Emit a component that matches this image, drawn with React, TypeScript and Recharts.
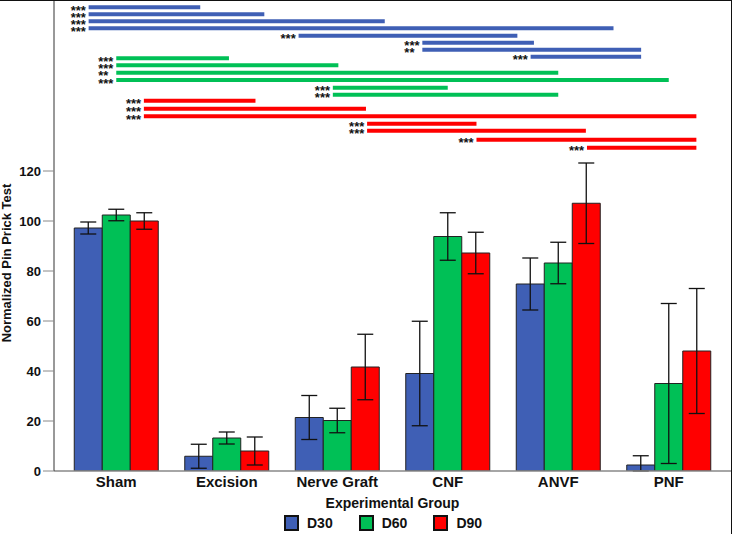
import React from 'react';
import {
  BarChart,
  Bar,
  XAxis,
  YAxis,
  ErrorBar,
  Legend,
  ReferenceLine
} from 'recharts';

// Groups and mean values per day
const groups = ['Sham', 'Excision', 'Nerve Graft', 'CNF', 'ANVF', 'PNF'];
const d30 = [97.2, 5.9, 21.4, 39.0, 74.8, 2.4];
const d30Err = [2.4, 4.8, 8.8, 20.9, 10.4, 3.7];
const d60 = [102.4, 13.2, 20.2, 93.8, 83.2, 35.0];
const d60Err = [2.3, 2.4, 4.9, 9.5, 8.3, 32.0];
const d90 = [100.0, 8.0, 41.6, 87.2, 107.1, 48.0];
const d90Err = [3.3, 5.6, 13.1, 8.3, 16.1, 25.0];

const yTicks = [0, 20, 40, 60, 80, 100, 120];

const seriesNames = ['D30', 'D60', 'D90'];
const seriesColors = ['#3F5FB5', '#00C056', '#FF0000'];

// Significance brackets: positions in group units (group centre = index)
const blueSig = [
  { from: -0.25, to: 0.76, y: 185.5, label: '***' },
  { from: -0.25, to: 1.34, y: 182.7, label: '***' },
  { from: -0.25, to: 2.43, y: 179.9, label: '***' },
  { from: -0.25, to: 4.5, y: 177.1, label: '***' },
  { from: 1.65, to: 3.63, y: 174.1, label: '***' },
  { from: 2.77, to: 3.78, y: 171.3, label: '***' },
  { from: 2.77, to: 4.75, y: 168.5, label: '**' },
  { from: 3.75, to: 4.75, y: 165.7, label: '***' }
];
const greenSig = [
  { from: 0.0, to: 1.02, y: 165.1, label: '***' },
  { from: 0.0, to: 2.01, y: 162.3, label: '***' },
  { from: 0.0, to: 4.0, y: 159.3, label: '**' },
  { from: 0.0, to: 5.0, y: 156.4, label: '***' },
  { from: 1.96, to: 3.0, y: 153.3, label: '***' },
  { from: 1.96, to: 4.0, y: 150.5, label: '***' }
];
const redSig = [
  { from: 0.25, to: 1.26, y: 148.1, label: '***' },
  { from: 0.25, to: 2.26, y: 144.9, label: '***' },
  { from: 0.25, to: 5.25, y: 141.9, label: '***' },
  { from: 2.27, to: 3.26, y: 138.9, label: '***' },
  { from: 2.27, to: 4.25, y: 136.1, label: '***' },
  { from: 3.26, to: 5.25, y: 132.5, label: '***' },
  { from: 4.26, to: 5.25, y: 129.3, label: '***' }
];

// error whiskers stop at the axis (no negative scores)
const clampErr = (v: number, e: number) => [Math.min(v, e), e];

const data = groups.map((g, i) => ({
  group: g,
  pos: i,
  d30: d30[i],
  d30Err: clampErr(d30[i], d30Err[i]),
  d60: d60[i],
  d60Err: clampErr(d60[i], d60Err[i]),
  d90: d90[i],
  d90Err: clampErr(d90[i], d90Err[i])
}));

const FONT = '"Liberation Sans", Arial, sans-serif';
const PAD = { left: 7, right: 7 };
// numeric helper axis: group index 0..5 lands on the band centres
const NUM_PAD = { left: 62.25, right: 62.25 };

const starLabel = (text: string) => (props: any) => {
  const vb = props.viewBox || {};
  return (
    <text
      x={vb.x - 18}
      y={vb.y + 7.5}
      fontFamily={FONT}
      fontWeight="bold"
      fontSize={13}
      fill="#111"
    >
      {text}
    </text>
  );
};

const renderLegend = () => (
  <div style={{ display: 'flex', paddingLeft: 284, paddingTop: 3, fontFamily: FONT }}>
    {seriesNames.map((name, i) => (
      <div key={name} style={{ display: 'flex', alignItems: 'center', marginRight: 26 }}>
        <span
          style={{
            display: 'inline-block',
            width: 11,
            height: 12,
            background: seriesColors[i],
            border: '2px solid #111',
            marginRight: 8
          }}
        />
        <span style={{ fontWeight: 'bold', fontSize: 14, color: '#111' }}>{name}</span>
      </div>
    ))}
  </div>
);

const sigLines = (list: typeof blueSig, color: string, key: string) =>
  list.map((s, i) => (
    <ReferenceLine
      key={`${key}-${i}`}
      xAxisId="num"
      segment={[{ x: s.from, y: s.y }, { x: s.to, y: s.y }]}
      stroke={color}
      strokeWidth={4}
      ifOverflow="visible"
      label={starLabel(s.label)}
    />
  ));

export default function App() {
  return (
    <div
      style={{
        position: 'absolute',
        left: 0,
        top: 0,
        width: 731,
        height: 533,
        borderTop: '1px solid #111',
        borderRight: '1px solid #111',
        background: '#fff'
      }}
    >
      <BarChart
        width={731}
        height={533}
        data={data}
        margin={{ top: 0, right: 0, left: 0, bottom: 0 }}
        barCategoryGap="12%"
        barGap={0}
      >
        <XAxis
          xAxisId="cat"
          dataKey="group"
          padding={PAD}
          height={41}
          tickLine={false}
          tickSize={3}
          tickMargin={2}
          axisLine={{ stroke: '#888', strokeWidth: 1.5 }}
          tick={{ fontFamily: FONT, fontWeight: 'bold', fontSize: 15, fill: '#111' }}
          interval={0}
          label={(props: any) => {
            const vb = props.viewBox;
            return (
              <text
                x={vb.x + vb.width / 2}
                y={vb.y + 37}
                textAnchor="middle"
                fontFamily={FONT}
                fontWeight="bold"
                fontSize={14}
                fill="#111"
              >
                Experimental Group
              </text>
            );
          }}
        />
        <XAxis
          xAxisId="num"
          dataKey="pos"
          type="number"
          domain={[0, 5]}
          allowDataOverflow
          padding={NUM_PAD}
          hide
        />
        <YAxis
          domain={[0, 188]}
          allowDataOverflow
          ticks={yTicks}
          width={54}
          tickSize={11}
          tickMargin={2}
          interval={0}
          axisLine={{ stroke: '#333', strokeWidth: 1 }}
          tickLine={{ stroke: '#888' }}
          tick={{ fontFamily: FONT, fontWeight: 'bold', fontSize: 13, fill: '#111' }}
          label={() => (
            <text
              x={11}
              y={262}
              transform="rotate(-90 11 262)"
              textAnchor="middle"
              fontFamily={FONT}
              fontWeight="bold"
              fontSize={13}
              fill="#111"
            >
              Normalized Pin Prick Test
            </text>
          )}
        />
        <Legend verticalAlign="bottom" height={22} content={renderLegend} />
        <Bar xAxisId="cat" dataKey="d30" name="D30" fill={seriesColors[0]} stroke="#222" strokeWidth={1} isAnimationActive={false}>
          <ErrorBar dataKey="d30Err" width={8} stroke="#111" strokeWidth={1.3} />
        </Bar>
        <Bar xAxisId="cat" dataKey="d60" name="D60" fill={seriesColors[1]} stroke="#222" strokeWidth={1} isAnimationActive={false}>
          <ErrorBar dataKey="d60Err" width={8} stroke="#111" strokeWidth={1.3} />
        </Bar>
        <Bar xAxisId="cat" dataKey="d90" name="D90" fill={seriesColors[2]} stroke="#222" strokeWidth={1} isAnimationActive={false}>
          <ErrorBar dataKey="d90Err" width={8} stroke="#111" strokeWidth={1.3} />
        </Bar>
        {sigLines(blueSig, seriesColors[0], 'b')}
        {sigLines(greenSig, seriesColors[1], 'g')}
        {sigLines(redSig, seriesColors[2], 'r')}
      </BarChart>
    </div>
  );
}
